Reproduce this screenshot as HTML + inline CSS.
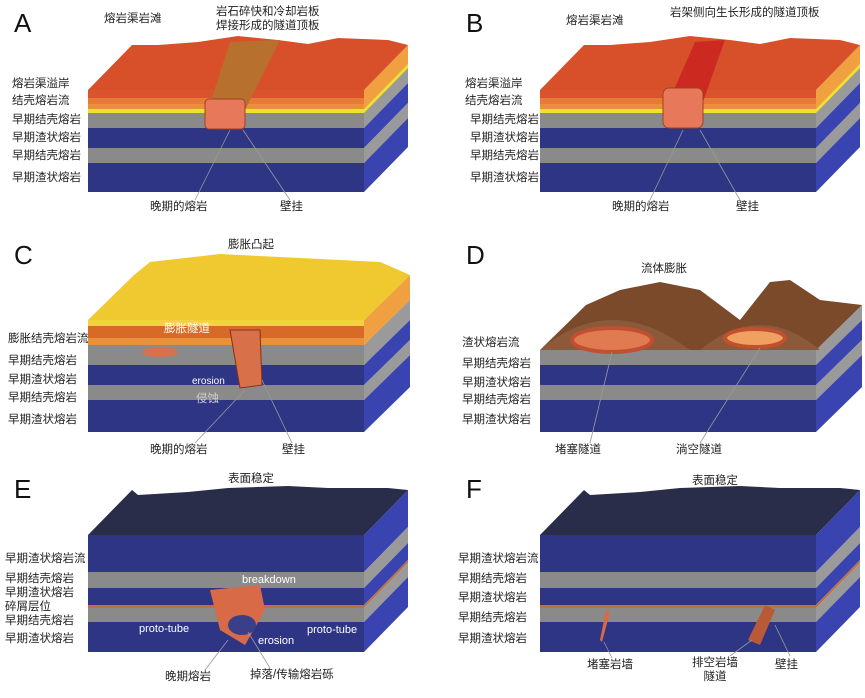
<!DOCTYPE html>
<html><head><meta charset="utf-8">
<style>
body{margin:0;background:#fff;width:865px;height:698px;overflow:hidden;position:relative;font-family:"Liberation Sans","Noto Sans CJK SC",sans-serif}
.t{position:absolute;font-size:11.5px;color:#222;white-space:nowrap;line-height:14px}
.L{position:absolute;font-size:26px;color:#111;font-family:"Liberation Sans",sans-serif}
.w{position:absolute;font-size:10px;color:#fff;white-space:nowrap}
svg{position:absolute;left:0;top:0}
</style></head><body>
<svg id="s" width="865" height="698"></svg>
<div class="L" style="left:14px;top:8px">A</div>
<div class="L" style="left:466px;top:8px">B</div>
<div class="L" style="left:14px;top:240px">C</div>
<div class="L" style="left:466px;top:240px">D</div>
<div class="L" style="left:14px;top:474px">E</div>
<div class="L" style="left:466px;top:474px">F</div>

<div class="t" style="left:104px;top:12px">熔岩渠岩滩</div>
<div class="t" style="left:216px;top:5px;text-align:center">岩石碎快和冷却岩板<br>焊接形成的隧道顶板</div>
<div class="t" style="left:12px;top:77px">熔岩渠溢岸</div>
<div class="t" style="left:12px;top:94px">结壳熔岩流</div>
<div class="t" style="left:12px;top:113px">早期结壳熔岩</div>
<div class="t" style="left:12px;top:131px">早期渣状熔岩</div>
<div class="t" style="left:12px;top:149px">早期结壳熔岩</div>
<div class="t" style="left:12px;top:171px">早期渣状熔岩</div>
<div class="t" style="left:150px;top:200px">晚期的熔岩</div>
<div class="t" style="left:280px;top:200px">壁挂</div>

<div class="t" style="left:566px;top:14px">熔岩渠岩滩</div>
<div class="t" style="left:670px;top:6px">岩架侧向生长形成的隧道顶板</div>
<div class="t" style="left:465px;top:77px">熔岩渠溢岸</div>
<div class="t" style="left:465px;top:94px">结壳熔岩流</div>
<div class="t" style="left:470px;top:113px">早期结壳熔岩</div>
<div class="t" style="left:470px;top:131px">早期渣状熔岩</div>
<div class="t" style="left:470px;top:149px">早期结壳熔岩</div>
<div class="t" style="left:470px;top:171px">早期渣状熔岩</div>
<div class="t" style="left:612px;top:200px">晚期的熔岩</div>
<div class="t" style="left:736px;top:200px">壁挂</div>

<div class="t" style="left:228px;top:238px">膨胀凸起</div>
<div class="t" style="left:8px;top:332px">膨胀结壳熔岩流</div>
<div class="t" style="left:8px;top:354px">早期结壳熔岩</div>
<div class="t" style="left:8px;top:373px">早期渣状熔岩</div>
<div class="t" style="left:8px;top:391px">早期结壳熔岩</div>
<div class="t" style="left:8px;top:413px">早期渣状熔岩</div>
<div class="t" style="left:150px;top:443px">晚期的熔岩</div>
<div class="t" style="left:282px;top:443px">壁挂</div>
<div class="w" style="left:192px;top:376px">erosion</div>
<div class="t" style="left:196px;top:392px;color:#ccc">侵蚀</div>
<div class="t" style="left:164px;top:322px;color:#ffe">膨胀隧道</div>

<div class="t" style="left:641px;top:262px">流体膨胀</div>
<div class="t" style="left:462px;top:336px">渣状熔岩流</div>
<div class="t" style="left:462px;top:357px">早期结壳熔岩</div>
<div class="t" style="left:462px;top:376px">早期渣状熔岩</div>
<div class="t" style="left:462px;top:393px">早期结壳熔岩</div>
<div class="t" style="left:462px;top:413px">早期渣状熔岩</div>
<div class="t" style="left:555px;top:443px">堵塞隧道</div>
<div class="t" style="left:676px;top:443px">淌空隧道</div>

<div class="t" style="left:228px;top:472px">表面稳定</div>
<div class="t" style="left:5px;top:552px">早期渣状熔岩流</div>
<div class="t" style="left:5px;top:572px">早期结壳熔岩</div>
<div class="t" style="left:5px;top:586px">早期渣状熔岩</div>
<div class="t" style="left:5px;top:600px">碎屑层位</div>
<div class="t" style="left:5px;top:614px">早期结壳熔岩</div>
<div class="t" style="left:5px;top:632px">早期渣状熔岩</div>
<div class="w" style="left:242px;top:574px;font-size:11px">breakdown</div>
<div class="w" style="left:139px;top:623px;font-size:11px">proto-tube</div>
<div class="w" style="left:307px;top:624px;font-size:11px">proto-tube</div>
<div class="w" style="left:258px;top:635px;font-size:11px">erosion</div>
<div class="t" style="left:165px;top:670px">晚期熔岩</div>
<div class="t" style="left:250px;top:668px">掉落/传输熔岩砾</div>

<div class="t" style="left:692px;top:474px">表面稳定</div>
<div class="t" style="left:458px;top:552px">早期渣状熔岩流</div>
<div class="t" style="left:458px;top:572px">早期结壳熔岩</div>
<div class="t" style="left:458px;top:591px">早期渣状熔岩</div>
<div class="t" style="left:458px;top:611px">早期结壳熔岩</div>
<div class="t" style="left:458px;top:632px">早期渣状熔岩</div>
<div class="t" style="left:587px;top:658px">堵塞岩墙</div>
<div class="t" style="left:692px;top:656px;text-align:center">排空岩墙<br>隧道</div>
<div class="t" style="left:775px;top:658px">壁挂</div>

<script>
const s=document.getElementById('s');let h='';
const G='#8a8a8a',Gr='#9a9a9a',B='#2e3585',Br='#3a44b0';
function block(x0,w,dx,dy,layers,top,topY,hump){
 layers.forEach(l=>{h+=`<rect x="${x0}" y="${l[0]}" width="${w}" height="${l[1]-l[0]}" fill="${l[2]}"/>`;
 h+=`<polygon points="${x0+w},${l[0]} ${x0+w+dx},${l[0]-dy} ${x0+w+dx},${l[1]-dy} ${x0+w},${l[1]}" fill="${l[3]||l[2]}"/>`;});
 let p=`${x0},${topY} ${x0+w},${topY} ${x0+w+dx},${topY-dy} `;
 hump.forEach(q=>p+=`${q[0]},${q[1]} `);
 p+=`${x0+dx},${topY-dy}`;
 h+=`<polygon points="${p}" fill="${top}"/>`;
}
[[88,0],[540,0]].forEach(([x,o],i)=>{
 block(x,276,44,45,[[90,113,'#e8913a','#f0a040'],[109,113,'#f0e030'],[113,128,G,Gr],[128,148,B,Br],[148,163,G,Gr],[163,192,B,Br]],'#d8502a',90,
 [[x+300,40],[x+250,38],[x+220,44],[x+190,40],[x+150,36],[x+110,42],[x+70,45]]);
 h+=`<rect x="${x}" y="90" width="276" height="8" fill="#d9542c"/><rect x="${x}" y="98" width="276" height="6" fill="#e67a36"/>`;
});
h+=`<polygon points="208,110 230,42 280,40 245,110" fill="#b8702e"/>`;
h+=`<rect x="205" y="99" width="40" height="30" rx="4" fill="#e8785a" stroke="#a04020"/>`;
h+=`<polygon points="665,110 695,42 725,40 700,110" fill="#cc2a20"/>`;
h+=`<rect x="663" y="88" width="40" height="40" rx="6" fill="#e8785a" stroke="#a04020"/>`;
block(88,276,46,45,[[320,345,'#e8913a','#f0a040'],[345,365,G,Gr],[365,385,B,Br],[385,400,G,Gr],[400,432,B,Br]],'#f0c830',320,
 [[380,262],[300,258],[220,254],[150,262],[134,275]]);
h+=`<rect x="88" y="320" width="276" height="6" fill="#f5d040"/><rect x="88" y="326" width="276" height="12" fill="#d86a28"/>`;
h+=`<polygon points="230,330 260,330 262,385 240,388" fill="#d8704a" stroke="#8a3018"/>`;
h+=`<ellipse cx="160" cy="352" rx="18" ry="5" fill="#d8704a"/>`;
block(540,276,46,45,[[350,365,G,Gr],[365,385,B,Br],[385,400,G,Gr],[400,432,B,Br]],'#7a4a2a',350,
 [[820,300],[790,280],[770,282],[740,320],[700,290],[660,282],[620,290]]);
h+=`<path d="M540 350 Q610 290 690 350 Z" fill="#8a5a3a"/><ellipse cx="612" cy="340" rx="40" ry="12" fill="#e07a50" stroke="#c05030" stroke-width="4"/>`;
h+=`<path d="M700 350 Q760 300 820 350 Z" fill="#8a5a3a"/><ellipse cx="755" cy="338" rx="30" ry="9" fill="#f0a060" stroke="#c05030" stroke-width="4"/>`;
[88,540].forEach(x=>{
 block(x,276,44,45,[[535,572,B,Br],[572,588,G,Gr],[588,605,B,Br],[605,608,'#c07040'],[608,622,G,Gr],[622,652,B,Br]],'#2a2d4a',535,
 [[x+300,488],[x+240,488],[x+200,486],[x+140,488],[x+100,492],[x+50,495]]);
});
h+=`<path d="M210 590 L260 585 L265 610 L245 645 L220 630 L215 610Z" fill="#d86a48"/><ellipse cx="242" cy="625" rx="14" ry="10" fill="#3a3f8a"/>`;
h+=`<polygon points="600,640 606,610 610,612 602,642" fill="#d86a48"/>`;
h+=`<polygon points="748,640 765,605 775,610 760,645" fill="#b85a38"/>`;
[[230,130,195,200],[243,130,290,200],[683,130,650,200],[700,130,740,200],[245,390,195,443],[262,380,292,443],[612,352,590,443],[760,348,700,443],[228,640,205,670],[248,632,270,668],[604,642,612,658],[752,640,730,656],[775,625,790,656]].forEach(l=>h+=`<line x1="${l[0]}" y1="${l[1]}" x2="${l[2]}" y2="${l[3]}" stroke="#999" stroke-width="0.8"/>`);
s.innerHTML=h;
</script>
</body></html>
